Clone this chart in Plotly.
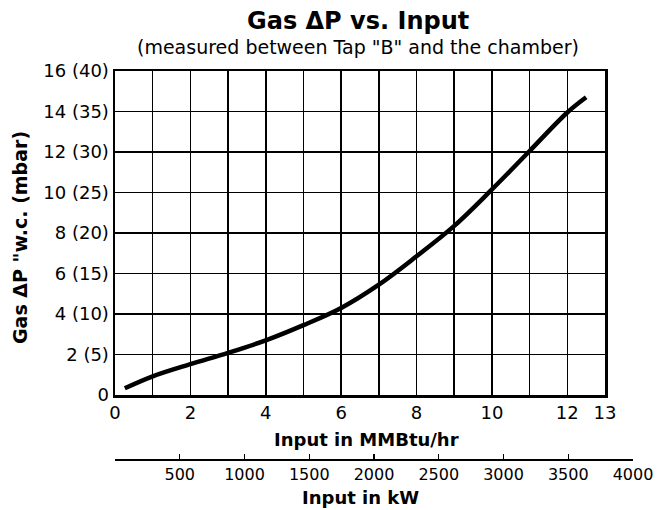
import plotly.graph_objects as go

# ---- data ----
mmbtu = [0.26, 1, 2, 3, 4, 5, 6, 7, 8, 9, 10, 11, 12, 12.5]
dp_wc = [0.33, 0.92, 1.52, 2.08, 2.7, 3.45, 4.3, 5.45, 6.85, 8.35, 10.15, 12.05, 13.95, 14.7]

x_tickvals = list(range(0, 14))
x_ticktext = ["0", "", "2", "", "4", "", "6", "", "8", "", "10", "", "12", "13"]
y_tickvals = [0, 2, 4, 6, 8, 10, 12, 14, 16]
y_ticktext = ["0", "2 (5)", "4 (10)", "6 (15)", "8 (20)", "10 (25)", "12 (30)", "14 (35)", "16 (40)"]
kw_tickvals = [500, 1000, 1500, 2000, 2500, 3000, 3500, 4000]
kw_ticktext = ["500", "1000", "1500", "2000", "2500", "3000", "3500", "4000"]

title = "Gas ΔP vs. Input"
subtitle = '(measured between Tap "B" and the chamber)'
x_title = "Input in MMBtu/hr"
kw_title = "Input in kW"
y_title = 'Gas ΔP "w.c. (mbar)'

# ---- layout geometry (reference pixel coords) ----
W, H = 658, 510
plot_left, plot_right, plot_top, plot_bottom = 115, 605, 71, 395
kw_line_y, kw_right = 459, 633
ML = plot_left
MT = plot_top
MB = H - kw_line_y
MR = 4
PW = W - ML - MR
PH = H - MT - MB

def px(xr):
    return (xr - ML) / PW

def py(yr):
    return (H - MB - yr) / PH

FONT = "DejaVu Sans, Liberation Sans, Arial, sans-serif"

fig = go.Figure()
fig.add_trace(go.Scatter(
    x=mmbtu, y=dp_wc, mode="lines",
    line=dict(color="black", width=4.5, shape="spline", smoothing=1.0),
    showlegend=False, hoverinfo="skip",
))
fig.add_trace(go.Scatter(
    x=kw_tickvals, y=[None] * len(kw_tickvals), xaxis="x2", yaxis="y2",
    mode="markers", showlegend=False, hoverinfo="skip",
))

fig.update_layout(
    width=W, height=H,
    margin=dict(l=ML, r=MR, t=MT, b=MB, pad=0, autoexpand=False),
    paper_bgcolor="white", plot_bgcolor="white",
    font=dict(family=FONT, color="black", size=17),
    xaxis=dict(
        domain=[0, px(plot_right)], range=[0, 13], automargin=False,
        tickvals=x_tickvals, ticktext=x_ticktext, ticks="",
        showgrid=True, gridcolor="black", gridwidth=1.6,
        showline=True, linecolor="black", linewidth=2.5, mirror=True,
        zeroline=False, tickfont=dict(size=18), anchor="y",
    ),
    yaxis=dict(
        domain=[py(plot_bottom), 1], range=[0, 16], automargin=False,
        tickvals=y_tickvals, ticktext=y_ticktext, ticks="",
        showgrid=True, gridcolor="black", gridwidth=1.6,
        showline=True, linecolor="black", linewidth=2.5, mirror=True,
        zeroline=False, tickfont=dict(size=18), anchor="x",
    ),
    xaxis2=dict(
        domain=[0, px(kw_right)], range=[0, 4000], anchor="y2", automargin=False,
        tickvals=kw_tickvals, ticktext=kw_ticktext,
        ticks="inside", ticklen=5, tickwidth=1.2, tickcolor="black",
        showgrid=False, zeroline=False,
        showline=True, linecolor="black", linewidth=1.5,
        tickfont=dict(size=16),
    ),
    yaxis2=dict(domain=[0, 0.02], visible=False, anchor="x2", range=[0, 1],
                automargin=False),
    annotations=[
        dict(text=f"<b>{title}</b>", x=px(358), y=py(21), xref="paper", yref="paper",
             showarrow=False, font=dict(size=24), xanchor="center", yanchor="middle"),
        dict(text=subtitle, x=px(358), y=py(47), xref="paper", yref="paper",
             showarrow=False, font=dict(size=19), xanchor="center", yanchor="middle"),
        dict(text=f"<b>{x_title}</b>", x=px(366), y=py(439), xref="paper", yref="paper",
             showarrow=False, font=dict(size=18), xanchor="center", yanchor="middle"),
        dict(text=f"<b>{kw_title}</b>", x=px(360), y=py(497), xref="paper", yref="paper",
             showarrow=False, font=dict(size=18), xanchor="center", yanchor="middle"),
        dict(text=f"<b>{y_title}</b>", x=px(20), y=py(238), xref="paper", yref="paper",
             showarrow=False, font=dict(size=19), textangle=-90,
             xanchor="center", yanchor="middle"),
    ],
)

fig.write_html(
    "out.html",
    config={"displayModeBar": False, "staticPlot": True},
    post_script="document.body.style.margin='0px';document.body.style.overflow='hidden';",
)
